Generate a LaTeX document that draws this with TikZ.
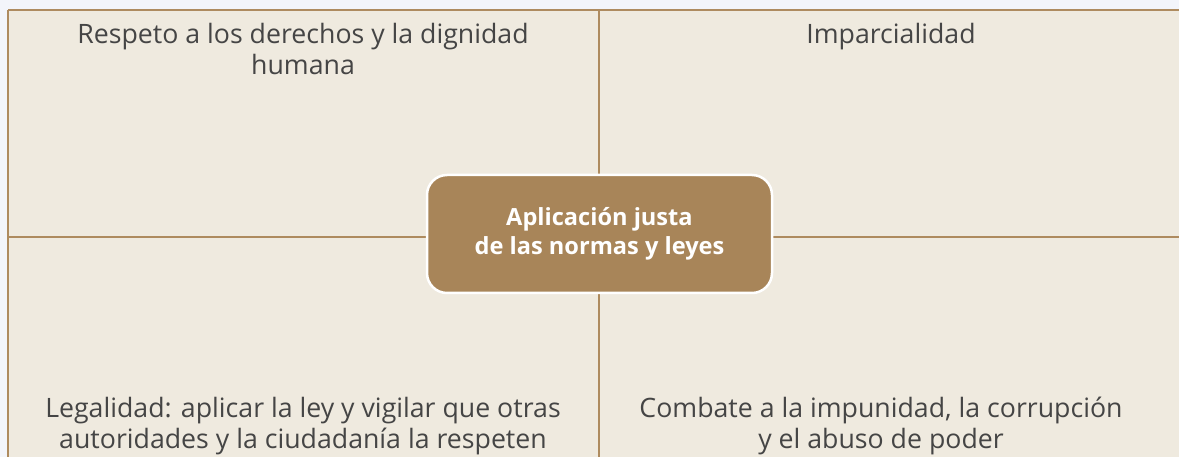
\documentclass[tikz,border=0pt]{standalone}
\usepackage{fontspec}
\setmainfont{Open Sans}
\usetikzlibrary{positioning, backgrounds}
\definecolor{margincol}{HTML}{F3F5FA}
\definecolor{papercol}{HTML}{EFEADF}
\definecolor{rulecol}{HTML}{AE8B5F}
\definecolor{hubcol}{HTML}{A88559}
\definecolor{inkcol}{HTML}{454545}
\tikzset{
    quadtext/.style={
        align=center, inner sep=0pt, text=inkcol,
        font=\fontsize{26.7}{30.5}\selectfont
    },
    divider/.style={
        draw=rulecol, line width=2.4pt
    },
    frameline/.style={
        draw=rulecol, line width=2.8pt
    },
    hub/.style={
        rectangle, rounded corners=20pt, draw=white, line width=2.5pt,
        fill=hubcol, text=white, align=center,
        font=\bfseries\fontsize{23.6}{29}\selectfont,
        minimum width=345pt, minimum height=118pt
    }
}

\begin{document}
\begin{tikzpicture}[x=1pt, y=-1pt]

    % CANVAS
    \useasboundingbox (0,0) rectangle (1179,457);
    \fill[margincol] (0,0) rectangle (1179,457);
    \fill[papercol] (8,10) rectangle (1179,457);

    % FRAME AND DIVIDERS
    \coordinate (top_left) at (8,10);
    \coordinate (top_right) at (1179,10);
    \coordinate (bottom_left) at (8,457);
    \coordinate (mid_top) at (599,10);
    \coordinate (mid_bottom) at (599,457);
    \coordinate (mid_left) at (8,237);
    \coordinate (mid_right) at (1179,237);
    \draw[divider] (mid_top) -- (mid_bottom);
    \draw[divider] (mid_left) -- (mid_right);
    \draw[frameline] (top_left) -- (top_right);
    \draw[frameline] (top_left) -- (bottom_left);

    % HUB
    \node[hub] (hub) at (599.5,234) {Aplicación justa\\de las normas y leyes};

    % QUADRANTS
    \node[quadtext, anchor=base] (respect) at (303,74.5) {Respeto a los derechos y la dignidad\\humana};
    \node[quadtext, anchor=base] (impartial) at (891,44) {Imparcialidad};
    \node[quadtext, anchor=base] (legality) at (303,448) {Legalidad: aplicar la ley y vigilar que otras\\autoridades y la ciudadanía la respeten};
    \node[quadtext, anchor=base] (combat) at (881,448) {Combate a la impunidad, la corrupción\\y el abuso de poder};

\end{tikzpicture}
\end{document}
